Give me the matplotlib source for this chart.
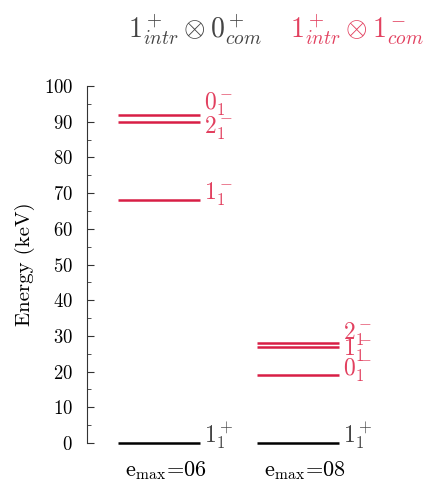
import matplotlib
matplotlib.use("Agg")
import matplotlib.pyplot as plt
from matplotlib.ticker import MultipleLocator

plt.rcParams["font.family"] = "serif"
plt.rcParams["font.serif"] = ["cmr10", "DejaVu Serif"]
plt.rcParams["mathtext.fontset"] = "cm"
plt.rcParams["axes.unicode_minus"] = False
plt.rcParams["axes.formatter.use_mathtext"] = True

# уровни для двух вычислений
calcs = [r"$\mathrm{e}_{\mathrm{max}}$=06", r"$\mathrm{e}_{\mathrm{max}}$=08"]
e06_energy = [0, 68, 90, 92]
e06_state = [r"$1^+_1$", r"$1^-_1$", r"$2^-_1$", r"$0^-_1$"]
e06_label_y = [1.7, 69.5, 88.2, 94.7]
e08_energy = [0, 19, 27, 28]
e08_state = [r"$1^+_1$", r"$0^-_1$", r"$1^-_1$", r"$2^-_1$"]
e08_label_y = [1.7, 20.4, 26.0, 30.5]

RED = "#d81e45"
RED_TXT = "#e2405f"
GREY = "#444444"

fig = plt.figure(figsize=(4.32, 4.87), dpi=100)
ax = fig.add_axes([87 / 432, 44 / 487, 345 / 432, 357 / 487])

half = 0.295
columns = [(e06_energy, e06_state, e06_label_y), (e08_energy, e08_state, e08_label_y)]
for i, (energies, states, label_y) in enumerate(columns):
    x = i + 1
    for e, s, ly in zip(energies, states, label_y):
        positive = "+" in s
        c = "black" if positive else RED
        ax.plot([x - half, x + half], [e, e], color=c, lw=1.8,
                solid_capstyle="butt", clip_on=False)
        ax.text(x + half + 0.03, ly, s, color=GREY if positive else RED_TXT,
                fontsize=17, va="center", ha="left")
    ax.text(x + 0.05, -7.6, calcs[i], fontsize=16, ha="center", va="center", color="black")

ax.set_xlim(1 - 72 / 139, 2 + 134 / 139)
ax.set_ylim(0, 100)
for side in ["top", "right", "bottom"]:
    ax.spines[side].set_visible(False)
ax.spines["left"].set_color("#333333")
ax.set_xticks([])
ax.yaxis.set_major_locator(MultipleLocator(10))
ax.yaxis.set_minor_locator(MultipleLocator(5))
ax.tick_params(axis="y", which="major", direction="in", length=5, labelsize=13.5, pad=10, color="#333333")
ax.tick_params(axis="y", which="minor", direction="in", length=3, color="#333333")
ax.set_ylabel("Energy (keV)", fontsize=15, labelpad=6)

fig.text(128 / 432, 1 - 30 / 487, r"$1^+_{intr}\otimes 0^+_{com}$", color=GREY,
         fontsize=20, ha="left", va="center")
fig.text(290 / 432, 1 - 30 / 487, r"$1^+_{intr}\otimes 1^-_{com}$", color=RED_TXT,
         fontsize=20, ha="left", va="center")

fig.savefig("out.png", dpi=100)
